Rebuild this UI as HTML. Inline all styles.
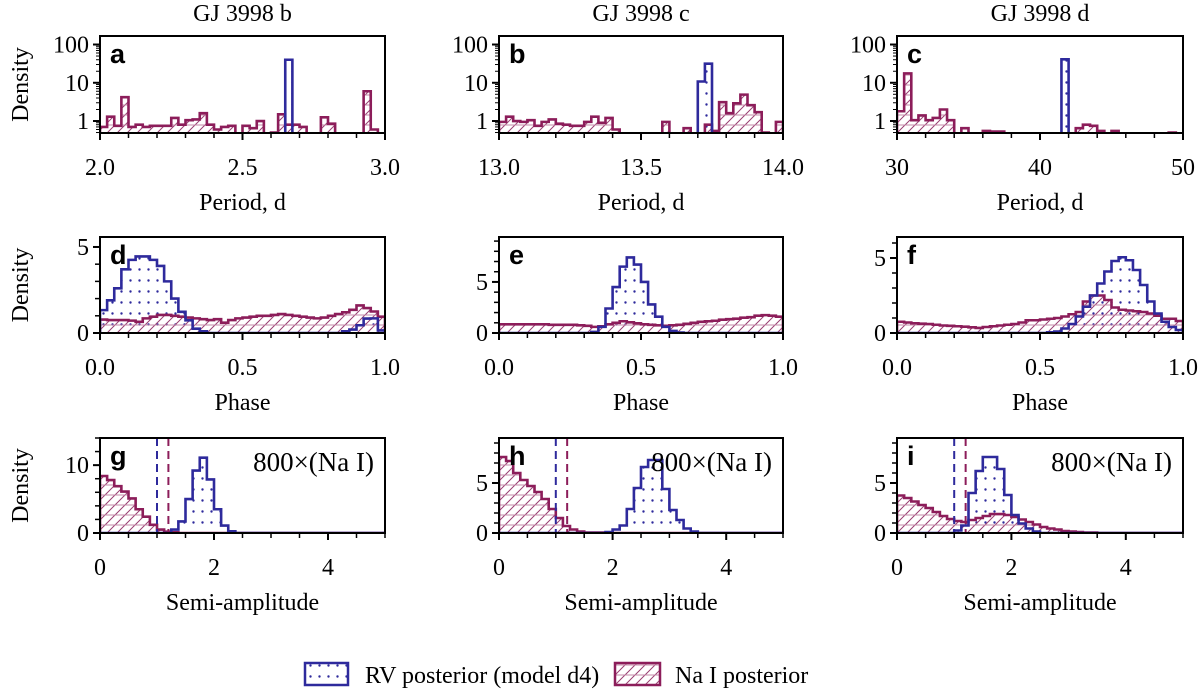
<!DOCTYPE html>
<html><head><meta charset="utf-8"><style>
html,body{margin:0;padding:0;background:#fff}
svg{display:block}
text{font-family:"Liberation Serif",serif;fill:#000}
.lt{font-family:"Liberation Sans",sans-serif;font-weight:bold}
</style></head><body>
<svg id="fig" width="1200" height="690" viewBox="0 0 1200 690" xmlns="http://www.w3.org/2000/svg">
<defs>
<pattern id="dots" patternUnits="userSpaceOnUse" width="9" height="11"><circle cx="4.5" cy="5.5" r="1.2" fill="#2e2a9c"/></pattern>
<pattern id="hatch" patternUnits="userSpaceOnUse" width="10" height="10"><path d="M0,10 L10,0 M-2,2 L2,-2 M8,12 L12,8" stroke="#9a3f72" stroke-width="1"/><path d="M0,5 H10" stroke="#c58aa9" stroke-width="1"/></pattern>
</defs>
<g id="plots"></g>
<g>
<rect x="305" y="663" width="43" height="22" fill="url(#dots)" stroke="#2e2a9c" stroke-width="2.5"/>
<text x="365" y="683" font-size="24">RV posterior (model d4)</text>
<rect x="615" y="663" width="45" height="22" fill="url(#hatch)" stroke="#8c1d5a" stroke-width="2.5"/>
<text x="675" y="683" font-size="24">Na I posterior</text>
</g>
</svg>
<script>
// ---- data (bin values) ----
const naA=[0.7,1.3,0.75,4.2,0.7,0.8,0.7,0.75,0.75,0.75,1.2,0.8,1.05,1.1,1.6,0.8,0.6,0.7,0.75,0,0.75,0.65,1.0,0,0.5,1.5,0.8,0.8,0.7,0,0,1.25,0.85,0,0,0,0,6,0.6,0];
const rvA=[0,0,0,0,0,0,0,0,0,0,0,0,0,0,0,0,0,0,0,0,0,0,0,0,0,0,40,0,0,0,0,0,0,0,0,0,0,0,0,0];
const naB=[0.95,1.3,1.0,0.95,1.05,0.75,0.95,1.1,0.85,0.8,0.75,0.75,0.95,1.3,0.9,1.2,0.6,0,0,0,0,0,0,0.95,0,0,0.65,0,0,0.8,0.55,3.1,1.6,2.9,4.9,2.6,1.7,0.5,0,0.95];
const rvB=[0,0,0,0,0,0,0,0,0,0,0,0,0,0,0,0,0,0,0,0,0,0,0,0,0,0,0,0,10.8,31.6,0,0,0,0,0,0,0,0,0,0];
const naC=[1.8,17.6,1.05,1.4,1.05,1.2,2.0,1.05,0.45,0.65,0.45,0.45,0.55,0.53,0.53,0,0,0,0,0,0,0,0,0,0,0.65,0.8,0.75,0.55,0,0.55,0,0,0,0,0,0,0,0.5,0];
const rvC=[0,0,0,0,0,0,0,0,0,0,0,0,0,0,0,0,0,0,0,0,0,0,0,41,0,0,0,0,0,0,0,0,0,0,0,0,0,0,0,0];
const naD=[0.78,0.75,0.75,0.75,0.72,0.65,0.85,0.95,1.05,1.05,1.0,0.95,0.9,0.85,0.8,0.75,0.8,0.6,0.75,0.85,0.9,0.95,1.0,1.0,1.05,1.1,1.05,1.0,0.95,0.9,0.85,0.9,1.0,1.1,1.2,1.35,1.6,1.45,1.25,0.95];
const rvD=[1.33,1.9,2.6,3.7,4.25,4.45,4.45,4.25,3.9,3.0,2.0,1.23,0.74,0.25,0.1,0,0,0,0,0,0,0,0,0,0,0,0,0,0,0,0,0,0,0,0.1,0.2,0.45,0.84,0.85,0.15];
const naE=[0.85,0.85,0.85,0.85,0.85,0.85,0.85,0.8,0.8,0.8,0.8,0.75,0.7,0.6,0.65,0.85,1.0,1.15,1.05,0.95,0.85,0.8,0.75,0.7,0.75,0.8,0.9,1.0,1.1,1.15,1.2,1.3,1.35,1.4,1.5,1.55,1.7,1.75,1.7,1.6];
const rvE=[0,0,0,0,0,0,0,0,0,0,0,0,0,0.1,0.6,2.4,4.5,6.5,7.4,6.7,5.0,2.8,1.6,0.6,0.2,0.05,0,0,0,0,0,0,0,0,0,0,0,0,0,0];
const naF=[0.75,0.7,0.65,0.62,0.6,0.55,0.5,0.48,0.45,0.42,0.38,0.34,0.4,0.45,0.5,0.55,0.6,0.7,0.85,0.85,0.9,0.95,1.0,1.1,1.25,1.4,2.1,2.5,2.5,2.2,1.7,1.55,1.5,1.45,1.4,1.3,1.15,0.95,0.95,0.8];
const rvF=[0,0,0,0,0,0,0,0,0,0,0,0,0,0,0,0,0,0,0,0,0,0.05,0.1,0.3,0.6,1.1,1.75,2.5,3.3,4.1,4.8,5.05,4.85,4.2,3.2,2.1,1.3,0.75,0.4,0.2];
const naG=[8.4,7.8,6.9,6.1,5.1,3.5,2.4,1.2,0.5,0.2,0.1,0,0,0,0,0,0,0,0,0,0,0,0,0,0,0,0,0,0,0,0,0,0,0,0,0,0,0,0,0];
const rvG=[0,0,0,0,0,0,0,0,0,0,0.5,1.7,5.0,9.2,11.1,7.9,3.5,1.1,0.25,0,0,0,0,0,0,0,0,0,0,0,0,0,0,0,0,0,0,0,0,0];
const naH=[7.6,7.2,6.0,5.3,4.7,4.1,3.4,2.4,1.5,0.7,0.35,0.15,0.05,0.05,0.05,0.05,0,0,0,0,0,0,0,0,0,0,0,0,0,0,0,0,0,0,0,0,0,0,0,0];
const rvH=[0,0,0,0,0,0,0,0,0,0,0,0,0,0,0,0.1,0.35,0.75,2.4,4.5,6.6,7.3,7.3,4.4,2.3,1.3,0.45,0.15,0,0,0,0,0,0,0,0,0,0,0,0];
const naI=[3.75,3.5,3.15,2.8,2.5,2.1,1.7,1.4,1.2,1.1,1.3,1.5,1.7,1.9,1.9,1.8,1.6,1.35,1.1,0.85,0.6,0.45,0.35,0.2,0.15,0.1,0.05,0.05,0,0,0,0,0,0,0,0,0,0,0,0];
const rvI=[0,0,0,0,0,0,0,0,0.25,0.75,4.0,6.2,7.6,7.6,6.4,3.8,1.8,0.95,0.45,0.15,0,0,0,0,0,0,0,0,0,0,0,0,0,0,0,0,0,0,0,0];
const titles=["GJ 3998 b","GJ 3998 c","GJ 3998 d"];
const rowXLabels=["Period, d","Phase","Semi-amplitude"];
const letters=["a","b","c","d","e","f","g","h","i"];
const rvLimit=[1.0];
const naLimit=[1.2];

const NS="http://www.w3.org/2000/svg";
const root=document.getElementById('plots');
function mk(tag,attrs,parent){const e=document.createElementNS(NS,tag);for(const k in attrs)e.setAttribute(k,attrs[k]);(parent||root).appendChild(e);return e;}

const cols=[[100,385],[499,783],[897,1183]];
const rows=[[36,133],[237,333],[438,533]];
const logR=[0.486,167];
const panels=[
 {r:0,c:0,na:naA,rv:rvA,x0:2,bw:0.025,xr:[2,3],yr:logR,log:true,xt:[2,2.5,3],xl:["2.0","2.5","3.0"],xm:0.1},
 {r:0,c:1,na:naB,rv:rvB,x0:13,bw:0.025,xr:[13,14],yr:logR,log:true,xt:[13,13.5,14],xl:["13.0","13.5","14.0"],xm:0.1},
 {r:0,c:2,na:naC,rv:rvC,x0:30,bw:0.5,xr:[30,50],yr:logR,log:true,xt:[30,40,50],xl:["30","40","50"],xm:2},
 {r:1,c:0,na:naD,rv:rvD,x0:0,bw:0.025,xr:[0,1],yr:[0,5.58],xt:[0,0.5,1],xl:["0.0","0.5","1.0"],xm:0.1,yt:[0,5],ym:1},
 {r:1,c:1,na:naE,rv:rvE,x0:0,bw:0.025,xr:[0,1],yr:[0,9.4],xt:[0,0.5,1],xl:["0.0","0.5","1.0"],xm:0.1,yt:[0,5],ym:1},
 {r:1,c:2,na:naF,rv:rvF,x0:0,bw:0.025,xr:[0,1],yr:[0,6.4],xt:[0,0.5,1],xl:["0.0","0.5","1.0"],xm:0.1,yt:[0,5],ym:1},
 {r:2,c:0,na:naG,rv:rvG,x0:0,bw:0.125,xr:[0,5],yr:[0,14],xt:[0,2,4],xl:["0","2","4"],xm:0.5,yt:[0,10],ym:2,amp:true},
 {r:2,c:1,na:naH,rv:rvH,x0:0,bw:0.125,xr:[0,5],yr:[0,9.5],xt:[0,2,4],xl:["0","2","4"],xm:0.5,yt:[0,5],ym:1,amp:true},
 {r:2,c:2,na:naI,rv:rvI,x0:0,bw:0.125,xr:[0,5],yr:[0,9.5],xt:[0,2,4],xl:["0","2","4"],xm:0.5,yt:[0,5],ym:1,amp:true}
];
const BLUE="#2e2a9c", MAG="#8c1d5a";

panels.forEach((p,idx)=>{
 const [L,R]=cols[p.c],[T,B]=rows[p.r];
 const X=v=>L+(v-p.xr[0])/(p.xr[1]-p.xr[0])*(R-L);
 const Y=p.log?(v=>{if(v<=0)return B+5;return B-(Math.log10(v)-Math.log10(p.yr[0]))/(Math.log10(p.yr[1])-Math.log10(p.yr[0]))*(B-T);})
              :(v=>B-(v-p.yr[0])/(p.yr[1]-p.yr[0])*(B-T));
 const g=mk('g',{});
 
 
 const cid='clip'+idx;
 const cp=mk('clipPath',{id:cid},g); mk('rect',{x:L,y:T,width:R-L,height:B-T},cp);
 function path(vals){
  let d='M'+X(p.x0)+','+B;
  vals.forEach((v,i)=>{const y=Math.min(Y(v),B+5);d+=' L'+X(p.x0+i*p.bw)+','+y+' L'+X(p.x0+(i+1)*p.bw)+','+y;});
  d+=' L'+X(p.x0+vals.length*p.bw)+','+B;return d;
 }
 const pg=mk('g',{'clip-path':'url(#'+cid+')'},g);
 const rvFl=mk('path',{d:path(p.rv)+' Z',fill:'url(#dots)',stroke:'none'},pg);
 
 
 const naFl=mk('path',{d:path(p.na)+' Z',fill:'url(#hatch)',stroke:'none'},pg);
 
 
 const naL=mk('path',{d:path(p.na),fill:'none',stroke:MAG,'stroke-width':2.6,'stroke-linejoin':'miter'},pg);
 
 
 const rvL=mk('path',{d:path(p.rv),fill:'none',stroke:BLUE,'stroke-width':2.6},pg);
 
 
 if(p.amp){
  const l1=mk('line',{x1:X(rvLimit[0]),x2:X(rvLimit[0]),y1:T,y2:B,stroke:BLUE,'stroke-width':2,'stroke-dasharray':'8,5'},pg);
  
  
  const l2=mk('line',{x1:X(naLimit[0]),x2:X(naLimit[0]),y1:T,y2:B,stroke:MAG,'stroke-width':2,'stroke-dasharray':'8,5'},pg);
  
  
  const t=mk('text',{x:R-11,y:T+33,'font-size':27,'text-anchor':'end'},g);
  t.textContent='800×(Na I)';
  
  
 }
 const fr=mk('rect',{x:L,y:T,width:R-L,height:B-T,fill:'none',stroke:'#000','stroke-width':2},g);
 
 
 const nx=Math.round((p.xr[1]-p.xr[0])/p.xm);
 for(let k=0;k<=nx;k++){const v=p.xr[0]+k*p.xm;const maj=p.xt.some(t=>Math.abs(t-v)<1e-9);
  mk('line',{x1:X(v),x2:X(v),y1:B,y2:B+(maj?7:5),stroke:'#000','stroke-width':maj?2:1.5},g);}
 p.xt.forEach((v,i)=>{const t=mk('text',{x:X(v),y:B+42,'font-size':24,'text-anchor':'middle'},g);t.textContent=p.xl[i];
  
  });
 const xl=mk('text',{x:(L+R)/2,y:B+77,'font-size':24,'text-anchor':'middle'},g);
 xl.textContent=rowXLabels[p.r];
 
 
 if(p.log){
  [1,10,100].forEach(v=>{mk('line',{x1:L-7,x2:L,y1:Y(v),y2:Y(v),stroke:'#000','stroke-width':2},g);
   const t=mk('text',{x:L-11,y:Y(v)+8,'font-size':24,'text-anchor':'end'},g);t.textContent=String(v);
   
   });
  [0.1,1,10,100].forEach(d=>{for(let k=2;k<=9;k++){const v=k*d;if(v>=p.yr[0]&&v<=p.yr[1])mk('line',{x1:L-4,x2:L,y1:Y(v),y2:Y(v),stroke:'#000','stroke-width':1},g);}});
 }else{
  for(let v=0;v<=p.yr[1]+1e-9;v+=p.ym){const maj=p.yt.includes(Math.round(v*1000)/1000);
   mk('line',{x1:L-(maj?7:5),x2:L,y1:Y(v),y2:Y(v),stroke:'#000','stroke-width':maj?2:1.5},g);}
  p.yt.forEach(v=>{const t=mk('text',{x:L-11,y:Y(v)+8,'font-size':24,'text-anchor':'end'},g);t.textContent=String(v);
   
   });
 }
 const lt=mk('text',{x:L+10,y:T+27,'font-size':27,class:'lt'},g);
 lt.textContent=letters[idx];
 
 
 if(p.r===0){const t=mk('text',{x:(L+R)/2,y:21,'font-size':24,'text-anchor':'middle'},g);t.textContent=titles[p.c];
  
  }
 if(p.c===0){const t=mk('text',{x:0,y:0,'font-size':24,'text-anchor':'middle',transform:'translate(28,'+((T+B)/2)+') rotate(-90)'},g);t.textContent='Density';
  
  }
});
</script>
</body></html>
